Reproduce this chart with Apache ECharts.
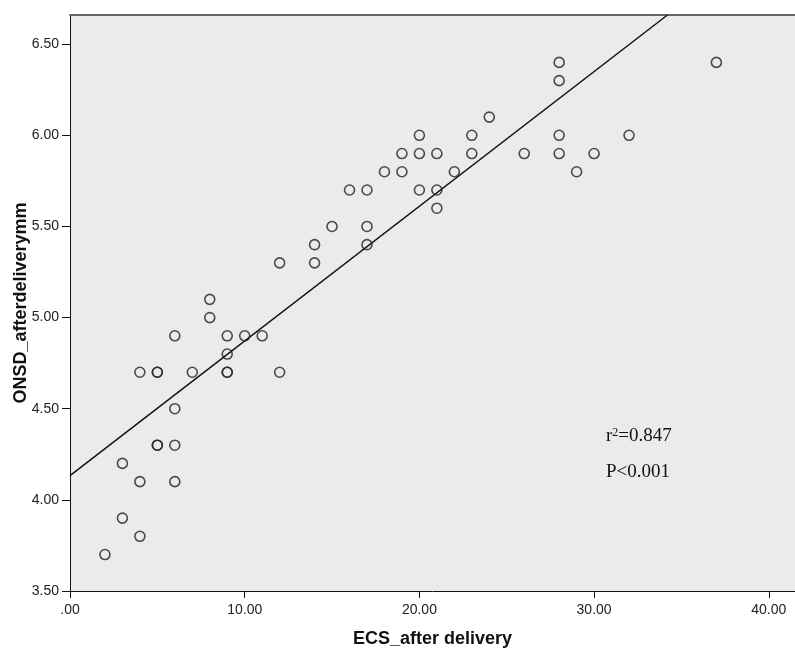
<!DOCTYPE html>
<html>
<head>
<meta charset="utf-8">
<script src="https://cdn.jsdelivr.net/npm/echarts@6/dist/echarts.min.js"></script>
<style>
html,body{margin:0;padding:0;background:#fff;}
#chart{width:795px;height:651px;}
</style>
</head>
<body>
<div id="chart"></div>
<script>
// ECS after delivery (x) values
const ecsValues = [2, 3, 3, 4, 4, 4, 5, 5, 5, 5, 6, 6, 6, 6, 7, 8, 8, 9, 9, 9, 9, 10, 11, 12, 12,
  14, 14, 15, 16, 17, 17, 17, 18, 19, 19, 20, 20, 20, 21, 21, 21, 22, 23, 23, 24, 26,
  28, 28, 28, 28, 29, 30, 32, 37];
// ONSD after delivery (mm) values
const onsdValues = [3.7, 3.9, 4.2, 3.8, 4.1, 4.7, 4.3, 4.3, 4.7, 4.7, 4.1, 4.3, 4.5, 4.9, 4.7, 5.0, 5.1, 4.7, 4.7, 4.8, 4.9, 4.9, 4.9, 4.7, 5.3,
  5.3, 5.4, 5.5, 5.7, 5.4, 5.5, 5.7, 5.8, 5.8, 5.9, 5.7, 5.9, 6.0, 5.6, 5.7, 5.9, 5.8, 5.9, 6.0, 6.1, 5.9,
  5.9, 6.0, 6.3, 6.4, 5.8, 5.9, 6.0, 6.4];
// Fit line endpoints
const fitLineX = [0, 34.2];
const fitLineY = [4.133, 6.66];
// Tick labels
const xTicks = [0, 10, 20, 30, 40];
const yTicks = [3.5, 4.0, 4.5, 5.0, 5.5, 6.0, 6.5];
const annotations = ['0.847', 'P<0.001'];
const xTitle = 'ECS_after delivery';
const yTitle = 'ONSD_afterdeliverymm';

const points = ecsValues.map((x, i) => [x, onsdValues[i]]);
const fitData = fitLineX.map((x, i) => [x, fitLineY[i]]);
const fmt = v => { let s = Number(v).toFixed(2); return s.startsWith('0.') ? s.slice(1) : s; };
const labelStyle = { color: '#222', fontSize: 14, fontFamily: '"Liberation Sans", Arial, sans-serif' };

const chart = echarts.init(document.getElementById('chart'), null, { renderer: 'canvas' });
chart.setOption({
  animation: false,
  backgroundColor: '#ffffff',
  grid: { left: 70, top: 15, right: 0, bottom: 60, show: true, backgroundColor: '#ebebeb', borderWidth: 0,
          containLabel: false, outerBoundsMode: 'none' },
  xAxis: [{
    type: 'value', min: 0, max: 41.5, position: 'bottom',
    name: xTitle, nameLocation: 'middle', nameGap: 39, nameMoveOverlap: false,
    nameTextStyle: { color: '#111', fontSize: 18, fontWeight: 'bold', fontFamily: '"Liberation Sans", Arial, sans-serif' },
    axisLine: { show: true, lineStyle: { color: '#111', width: 1 } },
    axisTick: { show: true, length: 7, customValues: xTicks, lineStyle: { color: '#111' } },
    axisLabel: Object.assign({ margin: 12, customValues: xTicks, formatter: fmt }, labelStyle),
    splitLine: { show: false }
  }, {
    type: 'value', min: 0, max: 41.5, position: 'top',
    axisLine: { show: true, lineStyle: { color: '#666', width: 2 } },
    axisTick: { show: false }, axisLabel: { show: false }, splitLine: { show: false }
  }],
  yAxis: {
    type: 'value', min: 3.5, max: 6.66,
    name: yTitle, nameLocation: 'middle', nameGap: 40, nameRotate: 90, nameMoveOverlap: false,
    nameTextStyle: { color: '#111', fontSize: 18, fontWeight: 'bold', fontFamily: '"Liberation Sans", Arial, sans-serif' },
    axisLine: { show: true, lineStyle: { color: '#111', width: 1 } },
    axisTick: { show: true, length: 8, customValues: yTicks, lineStyle: { color: '#111' } },
    axisLabel: Object.assign({ margin: 11, customValues: yTicks, formatter: fmt }, labelStyle),
    splitLine: { show: false }
  },
  series: [{
    type: 'line', data: fitData, xAxisIndex: 0, symbol: 'none',
    lineStyle: { color: '#111', width: 1.5 }, silent: true, z: 2
  }, {
    type: 'scatter', data: points, xAxisIndex: 0, symbol: 'circle', symbolSize: 10,
    itemStyle: { color: 'rgba(0,0,0,0)', borderColor: '#222', borderWidth: 1.6 }, z: 3
  }],
  graphic: [{
    type: 'text', left: 606, top: 427,
    style: {
      text: '{a|r}{s|2}{a|=' + annotations[0] + '}',
      rich: {
        a: { fontFamily: '"Liberation Serif", "Times New Roman", serif', fontSize: 19, fill: '#111', verticalAlign: 'bottom' },
        s: { fontFamily: '"Liberation Serif", "Times New Roman", serif', fontSize: 12, fill: '#111', verticalAlign: 'top', padding: [0, 0, 7, 0] }
      }
    }
  }, {
    type: 'text', left: 606, top: 463,
    style: { text: annotations[1], fontFamily: '"Liberation Serif", "Times New Roman", serif', fontSize: 19, fill: '#111' }
  }]
});
</script>
</body>
</html>
